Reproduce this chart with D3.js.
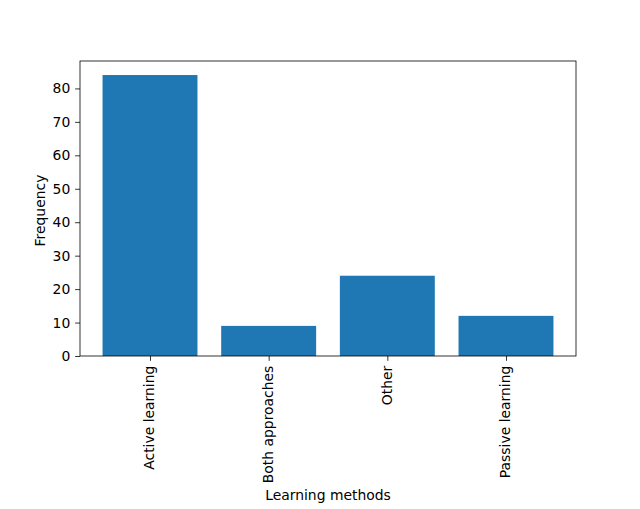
<!DOCTYPE html>
<html><head><meta charset="utf-8">
<script src="https://cdn.jsdelivr.net/npm/d3@7"></script>
<style>body{margin:0;background:#fff}svg{display:block}text{font-family:"DejaVu Sans",sans-serif;fill:#000}</style>
</head><body>
<svg id="c" width="640" height="509"></svg>
<script>
const categories = ["Active learning","Both approaches","Other","Passive learning"];
const values = [84, 9, 24, 12];
const yTicks = [0,10,20,30,40,50,60,70,80];

const W=640,H=509, L=80, R=576, T=61, B=356;
const svg=d3.select("#c");
const n=categories.length;
const x=d3.scaleLinear().domain([-0.4-0.19, n-1+0.4+0.19]).range([L,R]);
const ymax=d3.max(values)*1.05;
const y=d3.scaleLinear().domain([0,ymax]).range([B,T]);
const fs="13.9px";

svg.append("g").selectAll("rect").data(values).join("rect")
  .attr("x",(d,i)=>x(i-0.4)).attr("width",(d,i)=>x(i+0.4)-x(i-0.4))
  .attr("y",d=>y(d)).attr("height",d=>y(0)-y(d)).attr("fill","#1f77b4");

const xa=d3.axisBottom(x).tickValues(d3.range(n)).tickFormat(i=>categories[i]).tickSize(4.86).tickPadding(4.86);
const gx=svg.append("g").attr("transform",`translate(0,${B})`).call(xa);
gx.select(".domain").remove();
gx.selectAll("line").attr("stroke","#000").attr("stroke-width",0.8);
gx.selectAll("text").attr("font-size",fs).attr("font-family","DejaVu Sans")
  .attr("transform","rotate(-90)").attr("text-anchor","end").attr("dy","0.28em")
  .attr("x",-9.7).attr("y",0);

const ya=d3.axisLeft(y).tickValues(yTicks).tickSize(4.86).tickPadding(4.86);
const gy=svg.append("g").attr("transform",`translate(${L},0)`).call(ya);
gy.select(".domain").remove();
gy.selectAll("line").attr("stroke","#000").attr("stroke-width",0.8);
gy.selectAll("text").attr("font-size",fs).attr("font-family","DejaVu Sans");

svg.append("rect").attr("x",L).attr("y",T).attr("width",R-L).attr("height",B-T)
  .attr("fill","none").attr("stroke","#000").attr("stroke-width",0.8);

svg.append("text").attr("x",(L+R)/2).attr("y",500).attr("text-anchor","middle").attr("font-size",fs).text("Learning methods");
svg.append("text").attr("transform",`translate(45,${(T+B)/2+2}) rotate(-90)`).attr("text-anchor","middle").attr("font-size",fs).text("Frequency");
</script>
</body></html>
